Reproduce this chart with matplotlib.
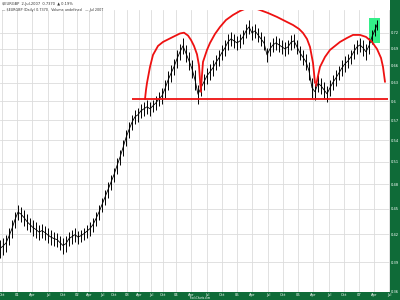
import matplotlib
matplotlib.use("Agg")
import matplotlib.pyplot as plt
from matplotlib.patches import Rectangle
from matplotlib.ticker import FixedLocator, NullLocator, FixedFormatter
import numpy as np

# ---- data (weekly-ish bar index, high / low prices) ----
bar_idx = [0, 3, 6, 9, 12, 15, 18, 21, 24, 27, 30, 33, 36, 39, 42, 45, 48, 51, 54, 57,
           60, 63, 66, 69, 72, 75, 78, 81, 84, 87, 90, 93, 96, 99, 102, 105, 108, 111, 114, 117,
           120, 123, 126, 129, 132, 135, 138, 141, 144, 147, 150, 153, 156, 159, 162, 165, 168, 171, 174, 177,
           180, 183, 186, 189, 192, 195, 198, 201, 204, 207, 210, 213, 216, 219, 222, 225, 228, 231, 234, 237,
           240, 243, 246, 249, 252, 255, 258, 261, 264, 267, 270, 273, 276, 279, 282, 285, 288, 291, 294, 297,
           300, 303, 306, 309, 312, 315, 318, 321, 324, 327, 330, 333, 336, 339, 342, 345, 348, 351, 354, 357,
           360, 363, 366, 369, 372, 375, 377]
high = [0.4141, 0.4163, 0.4197, 0.4276, 0.4369, 0.4463, 0.4547, 0.4523, 0.4487, 0.4439, 0.4392, 0.4369, 0.4346, 0.4311, 0.4323, 0.4299, 0.4276, 0.4253, 0.4231, 0.4220,
        0.4186, 0.4163, 0.4186, 0.4231, 0.4253, 0.4276, 0.4242, 0.4253, 0.4276, 0.4311, 0.4346, 0.4392, 0.4463, 0.4547, 0.4633, 0.4733, 0.4835, 0.4927, 0.5020, 0.5156,
        0.5267, 0.5410, 0.5556, 0.5677, 0.5783, 0.5861, 0.5893, 0.5956, 0.5988, 0.6020, 0.5988, 0.6020, 0.6085, 0.6150, 0.6216, 0.6350, 0.6505, 0.6610, 0.6717, 0.6880,
        0.6991, 0.7104, 0.6972, 0.6844, 0.6699, 0.6522, 0.6266, 0.6350, 0.6453, 0.6557, 0.6628, 0.6699, 0.6789, 0.6880, 0.6972, 0.7066, 0.7181, 0.7219, 0.7181, 0.7143,
        0.7181, 0.7258, 0.7375, 0.7454, 0.7335, 0.7375, 0.7297, 0.7219, 0.7143, 0.6917, 0.7029, 0.7104, 0.7143, 0.7104, 0.7066, 0.7029, 0.7066, 0.7162, 0.7181, 0.7066,
        0.6954, 0.6880, 0.6807, 0.6663, 0.6384, 0.6283, 0.6436, 0.6384, 0.6316, 0.6249, 0.6350, 0.6436, 0.6522, 0.6592, 0.6699, 0.6771, 0.6807, 0.6880, 0.6991, 0.7066,
        0.7104, 0.7066, 0.6991, 0.7104, 0.7258, 0.7375, 0.7454]
low = [0.3947, 0.3979, 0.4011, 0.4086, 0.4163, 0.4276, 0.4369, 0.4346, 0.4299, 0.4253, 0.4231, 0.4186, 0.4163, 0.4141, 0.4163, 0.4141, 0.4108, 0.4086, 0.4075, 0.4064,
       0.4032, 0.3990, 0.4011, 0.4075, 0.4097, 0.4119, 0.4097, 0.4119, 0.4141, 0.4163, 0.4186, 0.4231, 0.4299, 0.4369, 0.4463, 0.4547, 0.4633, 0.4733, 0.4835, 0.4940,
       0.5060, 0.5183, 0.5324, 0.5439, 0.5556, 0.5646, 0.5677, 0.5737, 0.5768, 0.5799, 0.5768, 0.5830, 0.5861, 0.5924, 0.5956, 0.6052, 0.6183, 0.6316, 0.6436, 0.6557,
       0.6699, 0.6807, 0.6663, 0.6522, 0.6384, 0.6183, 0.5956, 0.6085, 0.6183, 0.6283, 0.6350, 0.6419, 0.6522, 0.6592, 0.6699, 0.6771, 0.6880, 0.6954, 0.6917, 0.6880,
       0.6917, 0.6991, 0.7104, 0.7181, 0.7066, 0.7104, 0.7029, 0.6954, 0.6880, 0.6663, 0.6771, 0.6844, 0.6880, 0.6844, 0.6807, 0.6771, 0.6807, 0.6880, 0.6917, 0.6807,
       0.6699, 0.6610, 0.6522, 0.6350, 0.6052, 0.6020, 0.6150, 0.6118, 0.6052, 0.5988, 0.6085, 0.6183, 0.6249, 0.6350, 0.6419, 0.6488, 0.6557, 0.6628, 0.6717, 0.6807,
       0.6844, 0.6771, 0.6699, 0.6807, 0.6991, 0.7143, 0.7258]

# ---- annotation shapes (red arcs, support line, green box) ----
arc1_x = [145, 146, 147, 150, 153, 158, 163, 173, 180, 184, 188, 191, 194, 197, 199, 200, 201]
arc1_y = [0.6032, 0.6183, 0.6299, 0.6575, 0.6789, 0.6954, 0.7029, 0.7124, 0.7190, 0.7205,
          0.7150, 0.7066, 0.6954, 0.6800, 0.6600, 0.6350, 0.6150]
arc2_x = [201, 203, 207, 210, 215, 220, 226, 233, 240, 247, 254, 260, 268, 277, 285, 293,
          299, 303, 307, 310, 313, 315]
arc2_y = [0.6216, 0.6663, 0.6880, 0.7010, 0.7181, 0.7316, 0.7454, 0.7555, 0.7636, 0.7697,
          0.7697, 0.7656, 0.7595, 0.7515, 0.7434, 0.7355, 0.7278, 0.7200, 0.7085, 0.6935,
          0.6645, 0.6299]
arc3_x = [316, 318, 320, 325, 330, 340, 347, 353, 360, 366, 372, 377, 381, 383, 385]
arc3_y = [0.6249, 0.6419, 0.6575, 0.6752, 0.6880, 0.7029, 0.7104, 0.7162, 0.7162, 0.7124,
          0.7029, 0.6898, 0.6734, 0.6575, 0.6316]
support_level = 0.6032
support_span = [132, 388]
box_x = [369, 380]
box_y = [0.7010, 0.7494]

# ---- axes ticks ----
ytick_vals = [0.36, 0.39, 0.42, 0.45, 0.48, 0.51, 0.54, 0.57, 0.60, 0.63, 0.66, 0.69, 0.72]
ytick_labels = ["0.36", "0.39", "0.42", "0.45", "0.48", "0.51", "0.54", "0.57", "0.6",
                "0.63", "0.66", "0.69", "0.72"]
xtick_pos = [2, 17, 32, 48, 63, 77, 89, 102, 114, 127, 139, 151, 163, 176, 191, 207, 222,
             237, 252, 268, 283, 298, 313, 329, 344, 359, 374, 389]
xtick_labels = ["Oct", "01", "Apr", "Jul", "Oct", "02", "Apr", "Jul", "Oct", "03", "Apr", "Jul",
                "Oct", "04", "Apr", "Jul", "Oct", "05", "Apr", "Jul", "Oct", "06", "Apr", "Jul",
                "Oct", "07", "Apr", "Jul"]

GREEN = "#0f6b38"

fig = plt.figure(figsize=(4, 3), dpi=100, facecolor=GREEN)
# white header band
fig.patches.append(Rectangle((0, 290 / 300), 390 / 400, 10 / 300, transform=fig.transFigure,
                             facecolor="white", edgecolor="none", zorder=0))
ax = fig.add_axes([0, 8 / 300, 390 / 400, 282 / 300])
ax.set_facecolor("white")
ax.set_yscale("log")
ax.set_xlim(0, 390)
ax.set_ylim(0.36, 0.7656)

ax.yaxis.set_major_locator(FixedLocator(ytick_vals))
ax.yaxis.set_major_formatter(FixedFormatter(ytick_labels))
ax.yaxis.set_minor_locator(NullLocator())
ax.yaxis.tick_right()
ax.set_xticks(xtick_pos)
ax.set_xticklabels(xtick_labels)
ax.tick_params(axis="x", length=0, labelsize=2.6, labelcolor="white", pad=0.6)
ax.tick_params(axis="y", length=0, labelsize=2.6, labelcolor="white", pad=0.8)
ax.grid(True, color="#dcdcdc", lw=0.6)
ax.set_axisbelow(True)
for s in ax.spines.values():
    s.set_visible(False)

# green box behind price
ax.add_patch(Rectangle((box_x[0], box_y[0]), box_x[1] - box_x[0], box_y[1] - box_y[0],
                       facecolor="#33ee88", edgecolor="none", zorder=1))

# price bars (high-low) plus a line through the bar midpoints
ax.vlines(bar_idx, low, high, color="black", lw=0.7, zorder=3)
mid = [(h + l) / 2 for h, l in zip(high, low)]
ax.plot(bar_idx, mid, color="black", lw=0.6, zorder=3)

# red annotations
ax.hlines(support_level, support_span[0], support_span[1], color="#ee1111", lw=1.3, zorder=4)
for axx, ayy in [(arc1_x, arc1_y), (arc2_x, arc2_y), (arc3_x, arc3_y)]:
    ax.plot(axx, ayy, color="#ee1111", lw=1.3, zorder=4, clip_on=False,
            solid_capstyle="round")

# header texts
fig.text(0.005, 0.993, "$EURGBP  2-Jul-2007  0.7370  \u25b2 0.19%", fontsize=2.6, color="#333333",
         va="top", ha="left")
fig.text(0.005, 0.975, "\u2014 $EURGBP (Daily) 0.7370   Volume undefined   \u2014 Jul 2007",
         fontsize=2.4, color="#333333", va="top", ha="left")
fig.text(0.5, 0.0, "StockCharts.com", fontsize=1.8, color="white", ha="center", va="bottom")

fig.savefig("out.png", dpi=100, facecolor=fig.get_facecolor())
